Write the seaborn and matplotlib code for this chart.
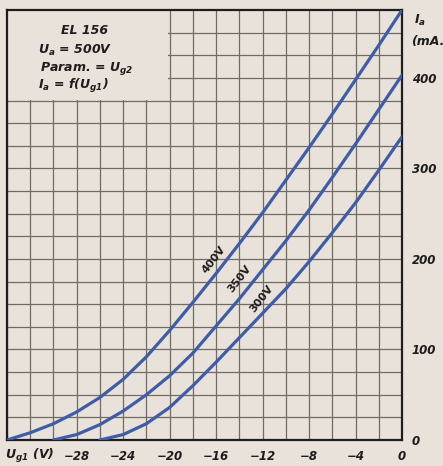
import numpy as np
import pandas as pd
import matplotlib
matplotlib.use('Agg')
import matplotlib.pyplot as plt
import seaborn as sns
from matplotlib.patches import Rectangle

# grid voltage (V) and anode current (mA), one set per screen voltage
ug1_400 = [-34, -32, -30, -28, -26, -24, -22, -20, -18, -16, -14, -12, -10, -8, -6, -4, -2, 0]
ia_400 = [0, 8, 18, 31, 47, 67, 92, 121, 152, 184, 217, 251, 287, 323, 360, 398, 436, 475]

ug1_350 = [-30, -28, -26, -24, -22, -20, -18, -16, -14, -12, -10, -8, -6, -4, -2, 0]
ia_350 = [0, 6, 17, 32, 50, 71, 96, 126, 156, 188, 220, 254, 290, 327, 365, 403]

ug1_300 = [-26, -24, -22, -20, -18, -16, -14, -12, -10, -8, -6, -4, -2, 0]
ia_300 = [0, 6, 18, 36, 60, 86, 113, 140, 167, 197, 229, 262, 298, 335]

curve_names = ['400V', '350V', '300V']
x_ticks = [-28, -24, -20, -16, -12, -8, -4, 0]
y_ticks = [0, 100, 200, 300, 400]

paper = '#e8e2da'
ink = '#1e1c1c'
blue = '#3e5ca8'

df = pd.concat([
    pd.DataFrame({'Ug1': ug1_400, 'Ia': ia_400, 'Ug2': '400V'}),
    pd.DataFrame({'Ug1': ug1_350, 'Ia': ia_350, 'Ug2': '350V'}),
    pd.DataFrame({'Ug1': ug1_300, 'Ia': ia_300, 'Ug2': '300V'}),
])

sns.set_style('white')
plt.rcParams['font.family'] = ['DejaVu Sans']
plt.rcParams['mathtext.fontset'] = 'custom'
plt.rcParams['mathtext.rm'] = 'DejaVu Sans:bold:italic'
plt.rcParams['mathtext.it'] = 'DejaVu Sans:bold:italic'
plt.rcParams['mathtext.default'] = 'rm'

W, H = 443, 466
fig = plt.figure(figsize=(W / 100, H / 100), dpi=100, facecolor=paper)
ax = fig.add_axes([7 / W, 26 / H, 395 / W, 430 / H])
ax.set_facecolor(paper)

sns.lineplot(data=df, x='Ug1', y='Ia', hue='Ug2', hue_order=curve_names,
             palette=[blue] * 3, linewidth=2.3, legend=False, ax=ax, zorder=3)

ax.set_xlim(-34, 0)
ax.set_ylim(0, 475)

# grid every 2 V and 25 mA, labels only at the major values
ax.set_xticks(x_ticks)
ax.set_xticks(np.arange(-34, 0, 2), minor=True)
ax.set_xticklabels(['\u221228', '\u221224', '\u221220', '\u221216', '\u221212', '\u22128', '\u22124', '0'])
ax.set_yticks(y_ticks)
ax.set_yticks(np.arange(0, 475, 25), minor=True)
ax.yaxis.tick_right()
ax.set_yticklabels([str(v) for v in y_ticks])
ax.set_axisbelow(True)
ax.grid(which='both', color='#716b65', linewidth=0.9)
ax.tick_params(which='both', length=0)
ax.tick_params(axis='x', pad=7, labelsize=8.5)
ax.tick_params(axis='y', pad=7, labelsize=8.5)
for lab in ax.get_xticklabels() + ax.get_yticklabels():
    lab.set_fontstyle('italic')
    lab.set_fontweight('bold')
    lab.set_color(ink)
for lab in ax.get_yticklabels():
    lab.set_horizontalalignment('left')
ax.set_xlabel('')
ax.set_ylabel('')

for s in ax.spines.values():
    s.set_color(ink)
    s.set_linewidth(1.6)
    s.set_visible(True)

# blank box for the heading, covering the grid
ax.add_patch(Rectangle((-34, 376), 13.9, 99, facecolor=paper, edgecolor='none', zorder=1))

def px(x, y):
    return x / W, 1 - y / H

txt = dict(fontsize=9, fontstyle='italic', fontweight='bold', color=ink, va='center')
fig.text(*px(85, 30), 'EL 156', ha='center', **txt)
fig.text(*px(38, 50), 'U$_a$ = 500V', ha='left', **txt)
fig.text(*px(40, 68), 'Param. = U$_{g2}$', ha='left', **txt)
fig.text(*px(38, 86), 'I$_a$ = f(U$_{g1}$)', ha='left', **txt)

fig.text(*px(414, 20), 'I$_a$', ha='left', **txt)
fig.text(*px(411, 41), '(mA.', ha='left', **txt)
fig.text(*px(5, 456), 'U$_{g1}$ (V)', ha='left', **txt)

# curve labels, turned along the lines
lab_pos = {'400V': (-16.2, 199), '350V': (-14.0, 178), '300V': (-12.1, 156)}
for name in curve_names:
    x, y = lab_pos[name]
    ax.text(x, y, name, rotation=52, ha='center', va='center', fontsize=8,
            fontweight='bold', color=ink, zorder=4)

fig.savefig('out.png', dpi=100, facecolor=paper)
